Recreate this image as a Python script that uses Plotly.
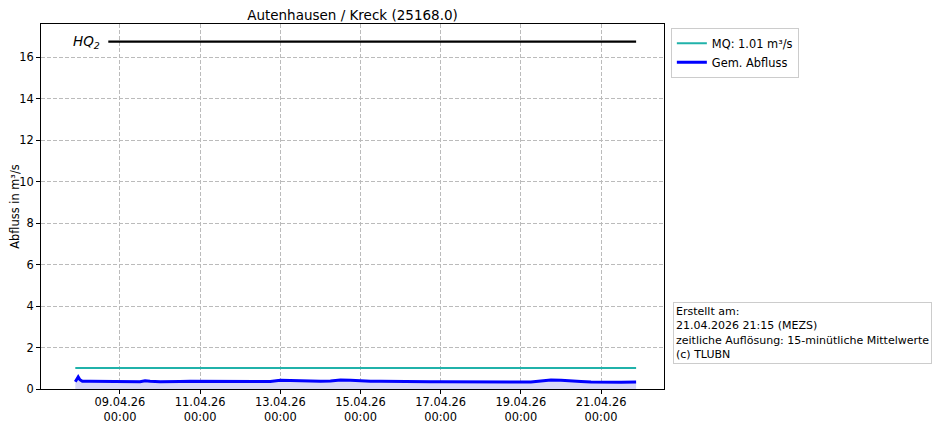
import plotly.graph_objects as go

times = ["2026-04-07 21:15", "2026-04-07 22:00", "2026-04-07 23:00", "2026-04-08 00:00", "2026-04-08 01:30",
         "2026-04-08 06:00", "2026-04-08 12:00", "2026-04-08 18:00", "2026-04-09 00:00", "2026-04-09 06:00",
         "2026-04-09 12:00", "2026-04-09 15:00", "2026-04-09 18:00", "2026-04-10 00:00", "2026-04-10 06:00",
         "2026-04-10 12:00", "2026-04-10 18:00", "2026-04-11 00:00", "2026-04-11 06:00", "2026-04-11 12:00",
         "2026-04-11 18:00", "2026-04-12 00:00", "2026-04-12 06:00", "2026-04-12 12:00", "2026-04-12 18:00",
         "2026-04-13 00:00", "2026-04-13 06:00", "2026-04-13 12:00", "2026-04-13 18:00", "2026-04-14 00:00",
         "2026-04-14 06:00", "2026-04-14 12:00", "2026-04-14 18:00", "2026-04-15 00:00", "2026-04-15 06:00",
         "2026-04-15 12:00", "2026-04-15 18:00", "2026-04-16 00:00", "2026-04-16 06:00", "2026-04-16 12:00",
         "2026-04-16 18:00", "2026-04-17 00:00", "2026-04-17 06:00", "2026-04-17 12:00", "2026-04-17 18:00",
         "2026-04-18 00:00", "2026-04-18 06:00", "2026-04-18 12:00", "2026-04-18 18:00", "2026-04-19 00:00",
         "2026-04-19 06:00", "2026-04-19 12:00", "2026-04-19 18:00", "2026-04-20 00:00", "2026-04-20 06:00",
         "2026-04-20 12:00", "2026-04-20 18:00", "2026-04-21 00:00", "2026-04-21 06:00", "2026-04-21 12:00",
         "2026-04-21 21:00"]
flow = [0.35, 0.45, 0.58, 0.45, 0.37,
        0.37, 0.37, 0.36, 0.36, 0.34,
        0.35, 0.40, 0.37, 0.35, 0.34,
        0.36, 0.37, 0.37, 0.37, 0.36,
        0.36, 0.36, 0.35, 0.34, 0.36,
        0.42, 0.41, 0.38, 0.36, 0.37,
        0.39, 0.43, 0.42, 0.39, 0.37,
        0.37, 0.36, 0.36, 0.36, 0.36,
        0.35, 0.35, 0.35, 0.33, 0.33,
        0.33, 0.33, 0.33, 0.33, 0.33,
        0.34, 0.39, 0.43, 0.42, 0.38,
        0.36, 0.34, 0.33, 0.34, 0.33,
        0.34]

mq_value = 1.01
mq_times = ["2026-04-07 21:15", "2026-04-21 21:00"]
hq2_value = 16.75
hq2_times = ["2026-04-08 17:00", "2026-04-21 21:00"]

tick_vals = ["2026-04-09", "2026-04-11", "2026-04-13", "2026-04-15", "2026-04-17", "2026-04-19", "2026-04-21"]
tick_text = ["09.04.26<br>00:00", "11.04.26<br>00:00", "13.04.26<br>00:00", "15.04.26<br>00:00",
             "17.04.26<br>00:00", "19.04.26<br>00:00", "21.04.26<br>00:00"]
x_range = ["2026-04-07 00:43", "2026-04-22 13:42"]
y_range = [0, 17.6]

font = "DejaVu Sans"
fs = 11.4

# the page body adds an 8px offset, so the figure is 8px smaller and margins shifted
W, H = 933, 418

fig = go.Figure()
fig.add_trace(go.Scatter(x=times, y=flow, mode="none", fill="tozeroy",
                         fillcolor="rgba(215,215,248,1)", showlegend=False, hoverinfo="skip"))
fig.add_trace(go.Scatter(x=hq2_times, y=[hq2_value, hq2_value], mode="lines",
                         line=dict(color="black", width=2.2), showlegend=False, hoverinfo="skip"))
fig.add_trace(go.Scatter(x=mq_times, y=[mq_value, mq_value], mode="lines",
                         line=dict(color="#20b2aa", width=2), name="MQ: 1.01 m³/s"))
fig.add_trace(go.Scatter(x=times, y=flow, mode="lines",
                         line=dict(color="#0000ff", width=3), name="Gem. Abfluss"))

fig.add_annotation(x=hq2_times[0], y=hq2_value, xref="x", yref="y", text="<i>HQ<sub>2</sub></i>",
                   showarrow=False, xanchor="right", xshift=-6, yshift=0,
                   font=dict(family=font, size=13.5, color="black"))

fig.add_annotation(x=1.0145, y=0.068, xref="paper", yref="paper", xanchor="left", yanchor="bottom",
                   align="left", showarrow=False,
                   text="Erstellt am:<br>21.04.2026 21:15 (MEZS)<br>zeitliche Auflösung: 15-minütliche Mittelwerte<br>(c) TLUBN",
                   font=dict(family=font, size=11, color="black"),
                   bordercolor="#cccccc", borderwidth=1, borderpad=2, bgcolor="white")

fig.update_layout(
    width=W, height=H,
    margin=dict(l=33, r=277, t=16, b=37, autoexpand=False),
    paper_bgcolor="white", plot_bgcolor="white",
    font=dict(family=font, size=fs, color="black"),
    title=dict(text="Autenhausen / Kreck (25168.0)", x=(33 + 656) / 2 / W, xanchor="center",
               y=1 - 7.5 / H, yanchor="middle", font=dict(family=font, size=13.5, color="black")),
    legend=dict(x=1.011, y=0.99, xanchor="left", yanchor="top", bordercolor="#cccccc", borderwidth=1,
                bgcolor="white", font=dict(family=font, size=fs), tracegroupgap=0, itemwidth=30),
    showlegend=True,
)
fig.update_xaxes(range=x_range, tickvals=tick_vals, ticktext=tick_text, showgrid=True,
                 gridcolor="#bbbbbb", griddash="4px,2px", gridwidth=1, showline=True, linecolor="black",
                 linewidth=1, mirror=True, ticks="outside", ticklen=4, tickcolor="black",
                 tickfont=dict(family=font, size=fs), zeroline=False, ticklabelstandoff=-2)
fig.update_yaxes(range=y_range, dtick=2, tick0=0, showgrid=True, gridcolor="#bbbbbb", griddash="4px,2px",
                 gridwidth=1, showline=True, linecolor="black", linewidth=1, mirror=True,
                 ticks="outside", ticklen=4, tickcolor="black", tickfont=dict(family=font, size=fs),
                 zeroline=False, title=dict(text="Abfluss in m³/s", font=dict(family=font, size=fs), standoff=12))

fig.write_html("out.html")
